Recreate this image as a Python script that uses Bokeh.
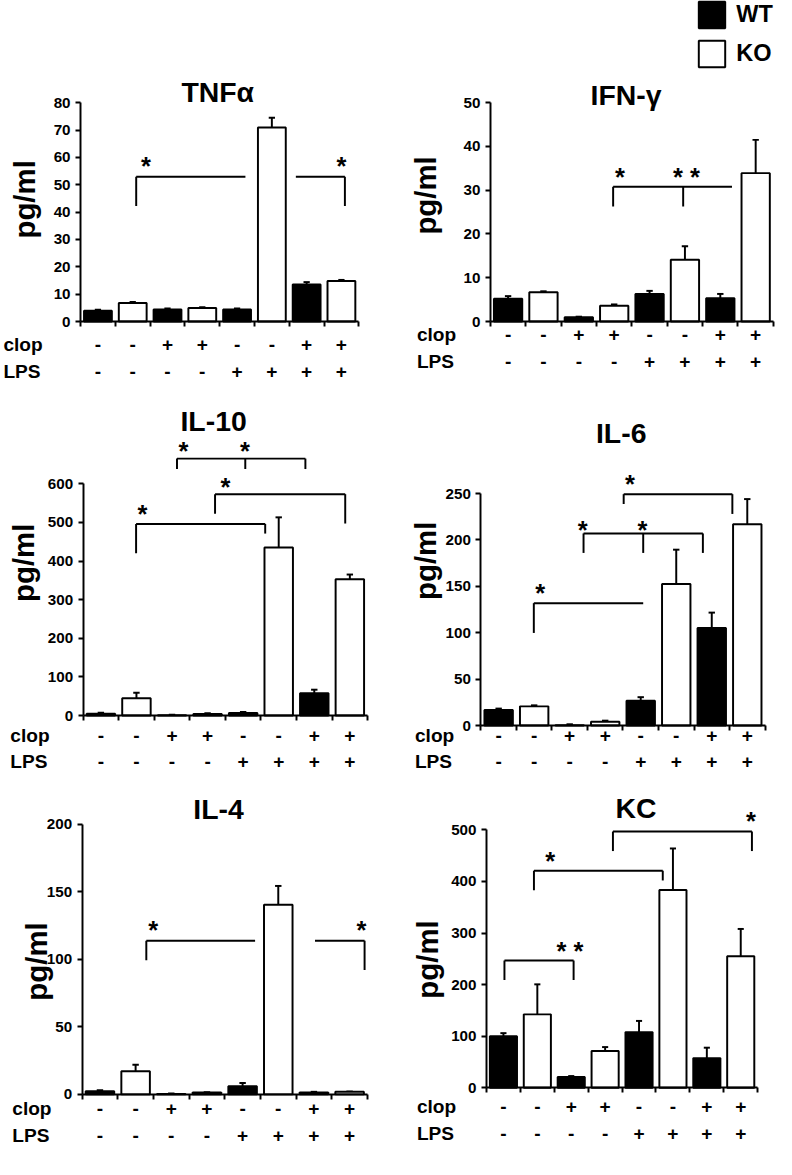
import math
from bokeh.plotting import figure
from bokeh.models import Range1d, LinearAxis, FixedTicker, ColumnDataSource, Legend, LegendItem
from bokeh.core.properties import value
from bokeh.embed import file_html
from bokeh.resources import INLINE

# ---------------- data ----------------
clop = ["-", "-", "+", "+", "-", "-", "+", "+"]
lps = ["-", "-", "-", "-", "+", "+", "+", "+"]
genotype = ["WT", "KO", "WT", "KO", "WT", "KO", "WT", "KO"]

tnf_mean = [3.9, 6.8, 4.4, 4.9, 4.4, 70.9, 13.5, 14.8]
tnf_sem = [0.4, 0.3, 0.4, 0.3, 0.4, 3.6, 0.9, 0.4]
ifn_mean = [5.2, 6.7, 1.0, 3.6, 6.3, 14.1, 5.3, 33.9]
ifn_sem = [0.6, 0.2, 0.1, 0.3, 0.7, 3.1, 1.0, 7.6]
il10_mean = [5, 45, 1, 4, 7, 435, 58, 353]
il10_sem = [2.6, 14, 1.5, 2, 2.3, 78, 9, 12]
il6_mean = [16.9, 20.7, 0.5, 4.2, 26.7, 152.6, 105.1, 217]
il6_sem = [1.4, 1.1, 0.9, 1.1, 3.9, 36.9, 16.6, 27]
il4_mean = [2.4, 17.1, 0.3, 1.4, 6.0, 140.3, 1.4, 1.9]
il4_sem = [0.7, 4.8, 0.4, 0.2, 2.4, 13.9, 0.5, 0.2]
kc_mean = [100, 142.4, 20.9, 71.5, 108, 383.5, 57.6, 255]
kc_sem = [6, 58.2, 1.9, 7.5, 21.7, 80.5, 20.2, 53]

# significance brackets: (bar level, x from, x to, [(leg x, leg end)])  x in slot units
tnf_brackets = [(52.9, 1.6, 4.74, [(1.6, 42.2)]), (52.9, 6.19, 7.6, [(7.6, 42.2)])]
tnf_stars = [(1.88, 57.7, "*"), (7.5, 57.7, "*")]
ifn_brackets = [(30.8, 3.47, 6.83, [(3.47, 26.3), (5.45, 26.3)])]
ifn_stars = [(3.66, 33.4, "*"), (5.54, 33.4, "* *")]
il10_brackets = [(665, 2.64, 6.25, [(2.64, 638), (4.56, 638), (6.25, 638)]),
                 (573, 3.71, 7.37, [(3.71, 522), (7.37, 497)]),
                 (496, 1.49, 5.12, [(1.49, 420), (5.12, 471)])]
il10_stars = [(2.82, 691, "*"), (4.55, 691, "*"), (4.0, 596, "*"), (1.67, 528, "*")]
il6_brackets = [(249.3, 4.02, 7.08, [(4.02, 238.7), (7.08, 228)]),
                (207, 2.89, 6.25, [(2.89, 186), (4.57, 186), (6.25, 186)]),
                (131.9, 1.49, 4.57, [(1.49, 99.8)])]
il6_stars = [(4.2, 262, "*"), (2.87, 213, "*"), (4.55, 213, "*"), (1.67, 144.5, "*")]
il4_brackets = [(113.7, 1.8, 4.85, [(1.8, 99.3)]), (113.7, 6.53, 7.92, [(7.92, 92)])]
il4_stars = [(1.99, 123.4, "*"), (7.83, 123.4, "*")]
kc_brackets = [(496.9, 3.73, 7.83, [(3.73, 459), (7.83, 459)]),
               (420.9, 1.4, 5.2, [(1.4, 383), (5.2, 402)]),
               (246.8, 0.53, 2.57, [(0.53, 209), (2.57, 209)])]
kc_stars = [(7.8, 522, "*"), (1.88, 443, "*"), (2.46, 270, "* *")]

titles = ["TNF\u03b1", "IFN-\u03b3", "IL-10", "IL-6", "IL-4", "KC"]
y_max = [80, 50, 600, 250, 200, 500]
y_step = [10, 10, 100, 50, 50, 100]
y_label = "pg/ml"

# ---------------- layout (reference pixel geometry) ----------------
REF_W, REF_H = 792, 1175
W = 776
S = W / REF_W
H = round(REF_H * S)

geometry = [
    dict(x0=81.7, slot=35.5, y0=327.7, ytop=104.3, title=(221.7, 93.5), ylab=(25, 203), rows=(351, 379), rowlab=3),
    dict(x0=500.0, slot=36.1, y0=327.7, ytop=104.3, title=(638.5, 96.7), ylab=(434, 199), rows=(340.7, 368.3), rowlab=425),
    dict(x0=84.3, slot=36.3, y0=730.0, ytop=493.3, title=(217.5, 429.7), ylab=(23, 574), rows=(750, 777), rowlab=10),
    dict(x0=490.3, slot=36.25, y0=740.2, ytop=503.3, title=(633.5, 442), ylab=(433.5, 572), rows=(750, 777), rowlab=423),
    dict(x0=83.3, slot=36.4, y0=1116.7, ytop=840.7, title=(222.5, 825.3), ylab=(37, 981), rows=(1130.7, 1158.3), rowlab=12),
    dict(x0=496.0, slot=34.6, y0=1110.0, ytop=846.7, title=(648.5, 824), ylab=(436, 979), rows=(1129, 1156.7), rowlab=425),
]

means = [tnf_mean, ifn_mean, il10_mean, il6_mean, il4_mean, kc_mean]
sems = [tnf_sem, ifn_sem, il10_sem, il6_sem, il4_sem, kc_sem]
brackets = [tnf_brackets, ifn_brackets, il10_brackets, il6_brackets, il4_brackets, kc_brackets]
stars = [tnf_stars, ifn_stars, il10_stars, il6_stars, il4_stars, kc_stars]

FONT = "Liberation Sans"
LW = 2 * S

p = figure(width=W, height=H, x_range=Range1d(0, REF_W), y_range=Range1d(REF_H, 0),
           output_backend="svg", toolbar_location=None,
           x_axis_location=None, y_axis_location=None, min_border=0,
           outline_line_color=None, background_fill_color="white", border_fill_color="white")
p.grid.visible = False

legend_renderers = {}

for k in range(6):
    g = geometry[k]
    xr, yr = f"x{k}", f"y{k}"
    p.extra_x_ranges[xr] = Range1d(-g["x0"] / g["slot"], (REF_W - g["x0"]) / g["slot"])
    ppu = (g["y0"] - g["ytop"]) / y_max[k]
    p.extra_y_ranges[yr] = Range1d((g["y0"] - REF_H) / ppu, g["y0"] / ppu)

    xs = [i + 0.5 for i in range(8)]
    m, s = means[k], sems[k]
    err = [a + b for a, b in zip(m, s)]

    # error bars (drawn first, bars on top)
    p.segment(x0=xs, y0=m, x1=xs, y1=err, line_color="black", line_width=LW,
              x_range_name=xr, y_range_name=yr)
    p.segment(x0=[x - 0.09 for x in xs], y0=err, x1=[x + 0.09 for x in xs], y1=err,
              line_color="black", line_width=LW, x_range_name=xr, y_range_name=yr)

    for gname, fill in (("WT", "black"), ("KO", "white")):
        idx = [i for i in range(8) if genotype[i] == gname]
        src = ColumnDataSource(dict(x=[xs[i] for i in idx], top=[m[i] for i in idx]))
        r = p.vbar(x="x", top="top", bottom=0, width=0.8, source=src, fill_color=fill,
                   line_color="black", line_width=LW, x_range_name=xr, y_range_name=yr)
        if k == 0:
            legend_renderers[gname] = r

    # brackets
    hx0, hx1, hy, vx, vy0, vy1 = [], [], [], [], [], []
    for (lvl, a, b, legs) in brackets[k]:
        hx0.append(a); hx1.append(b); hy.append(lvl)
        for (lx, le) in legs:
            vx.append(lx); vy0.append(lvl); vy1.append(le)
    p.segment(x0=hx0, y0=hy, x1=hx1, y1=hy, line_color="black", line_width=LW,
              x_range_name=xr, y_range_name=yr)
    p.segment(x0=vx, y0=vy0, x1=vx, y1=vy1, line_color="black", line_width=LW,
              x_range_name=xr, y_range_name=yr)
    st = stars[k]
    fs_star = 26 * S
    p.text(x=[a for a, b, c in st], y=[b for a, b, c in st], text=[c for a, b, c in st],
           text_font=value(FONT), text_font_style="bold", text_font_size=value(f"{fs_star:.1f}px"),
           text_align="center", text_baseline="alphabetic", y_offset=2,
           text_color="black", x_range_name=xr, y_range_name=yr)

    # axes
    yax = LinearAxis(x_range_name=xr, y_range_name=yr, fixed_location=0, bounds=(0, y_max[k]),
                     ticker=FixedTicker(ticks=list(range(0, y_max[k] + 1, y_step[k]))),
                     axis_line_width=LW, major_tick_line_width=LW, major_tick_out=5, major_tick_in=0,
                     minor_tick_out=0, minor_tick_in=0, major_label_standoff=5,
                     major_label_text_font=FONT, major_label_text_font_style="bold",
                     major_label_text_font_size=f"{15.5 * S:.1f}px", major_label_text_color="black")
    p.add_layout(yax, "left")
    xax = LinearAxis(x_range_name=xr, y_range_name=yr, fixed_location=0, bounds=(0, 8),
                     ticker=FixedTicker(ticks=list(range(9))),
                     axis_line_width=LW, major_tick_line_width=LW, major_tick_out=5, major_tick_in=0,
                     minor_tick_out=0, minor_tick_in=0, major_label_text_font_size="0px",
                     major_label_text_color=None)
    p.add_layout(xax, "below")

    # treatment rows
    ry1, ry2 = g["rows"]
    p.text(x=xs + xs, y=[ry1] * 8 + [ry2] * 8, text=clop + lps,
           text_font=value(FONT), text_font_style="bold", text_font_size=value(f"{19.5 * S:.1f}px"),
           text_align="center", text_baseline="middle", text_color="black", x_range_name=xr)
    p.text(x=[g["rowlab"], g["rowlab"]], y=[ry1, ry2], text=["clop", "LPS"],
           text_font=value(FONT), text_font_style="bold", text_font_size=value(f"{19.5 * S:.1f}px"),
           text_align="left", text_baseline="middle", text_color="black")

    # title and y label
    p.text(x=[g["title"][0]], y=[g["title"][1]], text=[titles[k]],
           text_font=value(FONT), text_font_style="bold", text_font_size=value(f"{29 * S:.1f}px"),
           text_align="center", text_baseline="middle", text_color="black")
    p.text(x=[g["ylab"][0]], y=[g["ylab"][1]], text=[y_label], angle=math.pi / 2,
           text_font=value(FONT), text_font_style="bold", text_font_size=value(f"{30 * S:.1f}px"),
           text_align="center", text_baseline="middle", text_color="black")

# legend (WT / KO)
gw = 34 * S
legend = Legend(items=[LegendItem(label="WT", renderers=[legend_renderers["WT"]]),
                       LegendItem(label="KO", renderers=[legend_renderers["KO"]])],
                location=(709.6 * S, H - 71.4 * S), orientation="vertical",
                glyph_width=round(gw), glyph_height=round(gw), spacing=round(6 * S),
                label_standoff=round(8.6 * S), label_text_font=FONT, label_text_font_style="bold",
                label_text_font_size=f"{24 * S:.1f}px", label_height=round(gw),
                label_text_color="black",
                padding=0, margin=0, border_line_color=None, background_fill_alpha=0)
p.add_layout(legend, "center")

open("out.html", "w").write(file_html(p, INLINE))
